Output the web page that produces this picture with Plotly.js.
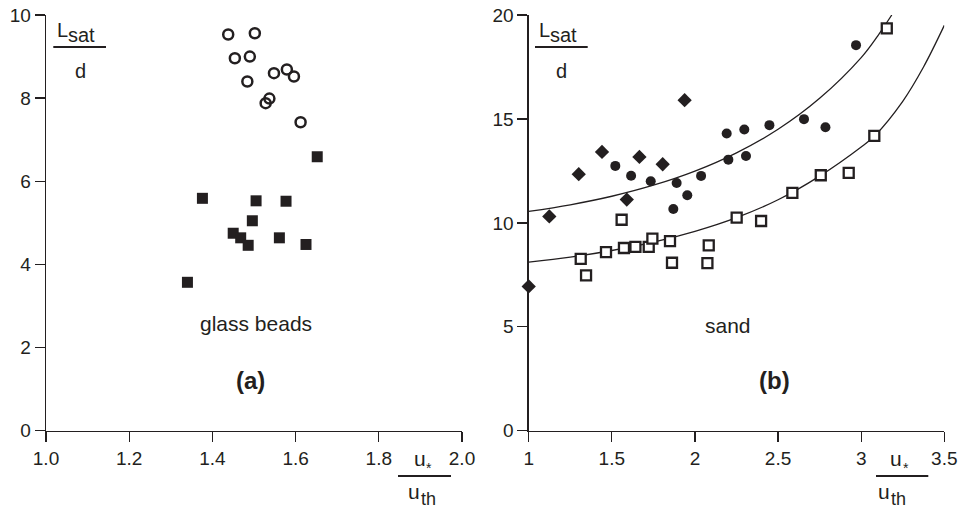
<!DOCTYPE html>
<html>
<head>
<meta charset="utf-8">
<script src="https://cdn.plot.ly/plotly-3.0.1.min.js"></script>
<style>html,body{margin:0;padding:0;background:#fff;}#chart{width:964px;height:512px;}</style>
</head>
<body>
<div id="chart"></div>
<script>
// ---- Panel (a): glass beads ----
const beadsOpenX   = [1.438, 1.502, 1.454, 1.490, 1.484, 1.548, 1.579, 1.596, 1.528, 1.537, 1.612];
const beadsOpenY   = [9.53, 9.56, 8.96, 9.00, 8.40, 8.60, 8.69, 8.52, 7.88, 7.99, 7.42];
const beadsFilledX = [1.652, 1.376, 1.505, 1.577, 1.496, 1.450, 1.468, 1.486, 1.561, 1.625, 1.340];
const beadsFilledY = [6.59, 5.59, 5.53, 5.52, 5.05, 4.75, 4.64, 4.46, 4.64, 4.48, 3.57];

// ---- Panel (b): sand ----
const sandDiamondX = [1.0, 1.124, 1.301, 1.441, 1.590, 1.666, 1.806, 1.938];
const sandDiamondY = [6.94, 10.31, 12.34, 13.41, 11.12, 13.17, 12.82, 15.90];
const sandCircleX  = [1.521, 1.616, 1.734, 1.890, 1.870, 1.954, 2.037, 2.191, 2.201, 2.297, 2.307, 2.448, 2.656, 2.785, 2.969];
const sandCircleY  = [12.74, 12.27, 12.00, 11.92, 10.67, 11.33, 12.26, 14.30, 13.04, 14.49, 13.22, 14.70, 14.99, 14.60, 18.55];
const sandSquareX  = [1.313, 1.345, 1.465, 1.559, 1.573, 1.642, 1.722, 1.744, 1.850, 1.862, 2.083, 2.075, 2.251, 2.398, 2.586, 2.757, 2.925, 3.079, 3.154];
const sandSquareY  = [8.27, 7.47, 8.59, 10.15, 8.79, 8.84, 8.84, 9.24, 9.12, 8.08, 8.92, 8.06, 10.25, 10.09, 11.44, 12.29, 12.40, 14.18, 19.36];

// fitted curves
const fitUpperX = [1.0, 1.25, 1.5, 1.75, 2.0, 2.25, 2.5, 2.75, 3.0, 3.1, 3.184];
const fitUpperY = [10.55, 10.87, 11.28, 11.81, 12.49, 13.37, 14.50, 15.99, 17.95, 19.0, 20.0];
const fitLowerX = [1.0, 1.25, 1.5, 1.75, 2.0, 2.25, 2.5, 2.75, 3.0, 3.08, 3.25, 3.375, 3.5];
const fitLowerY = [8.11, 8.35, 8.67, 9.07, 9.59, 10.25, 11.11, 12.25, 13.65, 14.18, 15.85, 17.5, 19.5];

// ticks
const xTicksA = [1.0, 1.2, 1.4, 1.6, 1.8, 2.0];
const xTickTextA = ['1.0', '1.2', '1.4', '1.6', '1.8', '2.0'];
const yTicksA = [0, 2, 4, 6, 8, 10];
const xTicksB = [1, 1.5, 2, 2.5, 3, 3.5];
const xTickTextB = ['1', '1.5', '2', '2.5', '3', '3.5'];
const yTicksB = [0, 5, 10, 15, 20];

const INK = '#231f20';
const W = 964, H = 512;
const px = v => v / W;
const py = v => 1 - v / H;
const FAM = 'Liberation Sans, Arial, sans-serif';

const traces = [
  {x: beadsOpenX, y: beadsOpenY, xaxis: 'x', yaxis: 'y', mode: 'markers', type: 'scatter', cliponaxis: false,
   marker: {symbol: 'circle-open', size: 10, color: INK, line: {width: 2.5, color: INK}}},
  {x: beadsFilledX, y: beadsFilledY, xaxis: 'x', yaxis: 'y', mode: 'markers', type: 'scatter', cliponaxis: false,
   marker: {symbol: 'square', size: 11, color: INK}},
  {x: fitUpperX, y: fitUpperY, xaxis: 'x2', yaxis: 'y2', mode: 'lines', type: 'scatter',
   line: {shape: 'spline', color: INK, width: 1.3}},
  {x: fitLowerX, y: fitLowerY, xaxis: 'x2', yaxis: 'y2', mode: 'lines', type: 'scatter',
   line: {shape: 'spline', color: INK, width: 1.3}},
  {x: sandDiamondX, y: sandDiamondY, xaxis: 'x2', yaxis: 'y2', mode: 'markers', type: 'scatter', cliponaxis: false,
   marker: {symbol: 'diamond', size: 11, color: INK}},
  {x: sandCircleX, y: sandCircleY, xaxis: 'x2', yaxis: 'y2', mode: 'markers', type: 'scatter', cliponaxis: false,
   marker: {symbol: 'circle', size: 10, color: INK}},
  {x: sandSquareX, y: sandSquareY, xaxis: 'x2', yaxis: 'y2', mode: 'markers', type: 'scatter', cliponaxis: false,
   marker: {symbol: 'square', size: 10, color: '#ffffff', line: {width: 2.3, color: INK}}}
];

const axisBase = {
  showline: true, linecolor: INK, linewidth: 1.3, ticks: 'outside', ticklen: 10, tickwidth: 1.3, tickcolor: INK,
  showgrid: false, zeroline: false, mirror: false, fixedrange: true,
  tickfont: {family: FAM, size: 19, color: INK}
};

const yDom = [py(430.7), py(15)];

const ann = (x, y, text, size, opts) => Object.assign({xref: 'paper', yref: 'paper', x: px(x), y: py(y), text: text,
  showarrow: false, font: {family: FAM, size: size || 21, color: INK}, xanchor: 'center', yanchor: 'middle'}, opts || {});

const layout = {
  width: W, height: H,
  margin: {l: 0, r: 0, t: 0, b: 0},
  paper_bgcolor: '#ffffff', plot_bgcolor: '#ffffff',
  showlegend: false,
  xaxis: Object.assign({}, axisBase, {domain: [px(46), px(462)], range: [1.0, 2.0], tickvals: xTicksA, ticktext: xTickTextA, anchor: 'y'}),
  yaxis: Object.assign({}, axisBase, {domain: yDom, range: [0, 10], tickvals: yTicksA, anchor: 'x'}),
  xaxis2: Object.assign({}, axisBase, {domain: [px(528.7), px(944.3)], range: [1, 3.5], tickvals: xTicksB, ticktext: xTickTextB, anchor: 'y2'}),
  yaxis2: Object.assign({}, axisBase, {domain: yDom, range: [0, 20], tickvals: yTicksB, anchor: 'x2'}),
  shapes: [
    {type: 'line', xref: 'paper', yref: 'paper', x0: px(53.3), x1: px(106), y0: py(47), y1: py(47), line: {color: INK, width: 2}},
    {type: 'line', xref: 'paper', yref: 'paper', x0: px(535), x1: px(587.7), y0: py(47), y1: py(47), line: {color: INK, width: 2}},
    {type: 'line', xref: 'paper', yref: 'paper', x0: px(398), x1: px(451), y0: py(476), y1: py(476), line: {color: INK, width: 2}},
    {type: 'line', xref: 'paper', yref: 'paper', x0: px(876), x1: px(928.3), y0: py(476), y1: py(476), line: {color: INK, width: 2}}
  ],
  annotations: [
    // L_sat / d, panel (a)
    ann(55, 30, 'L', 20, {xanchor: 'left'}),
    ann(66, 35, 'sat', 20, {xanchor: 'left'}),
    ann(80, 71, 'd', 20),
    // L_sat / d, panel (b)
    ann(537, 30, 'L', 20, {xanchor: 'left'}),
    ann(548, 35, 'sat', 20, {xanchor: 'left'}),
    ann(561.7, 71, 'd', 20),
    // u* / uth, panel (a)
    ann(412, 458, 'u', 21, {xanchor: 'left'}),
    ann(429, 468, '*', 14),
    ann(406, 491, 'u', 21, {xanchor: 'left'}),
    ann(419, 511, 'th', 18, {xanchor: 'left', yanchor: 'bottom'}),
    // u* / uth, panel (b)
    ann(888, 458, 'u', 21, {xanchor: 'left'}),
    ann(906, 468, '*', 14),
    ann(876, 491, 'u', 21, {xanchor: 'left'}),
    ann(889, 511, 'th', 18, {xanchor: 'left', yanchor: 'bottom'}),
    // in-plot texts
    ann(255.7, 323, 'glass beads', 21),
    ann(727.5, 325, 'sand', 21),
    ann(250, 380, '<b>(a)</b>', 24),
    ann(774, 380, '<b>(b)</b>', 24)
  ]
};

Plotly.newPlot('chart', traces, layout, {displayModeBar: false, staticPlot: true});
</script>
</body>
</html>
